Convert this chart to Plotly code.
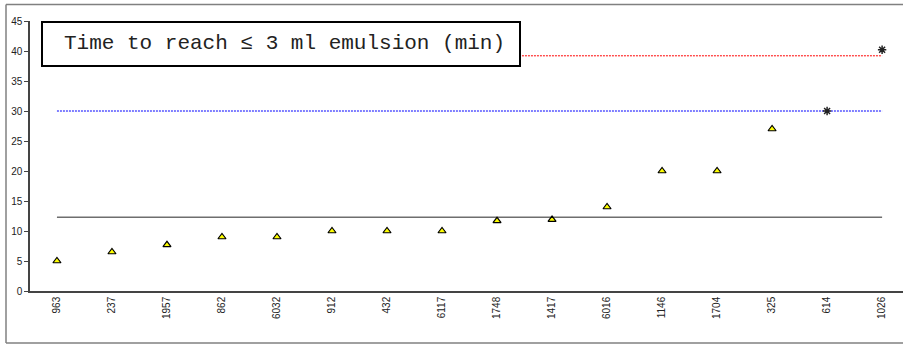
import plotly.graph_objects as go

# Sample ids on the category axis
samples = ['963', '237', '1957', '862', '6032', '912', '432', '6117',
           '1748', '1417', '6016', '1146', '1704', '325', '614', '1026']

# Times (min) to reach <= 3 ml emulsion
tri_samples = samples[:14]
tri_times = [5, 6.5, 7.7, 9, 9, 10, 10, 10, 11.7, 11.9, 14, 20, 20, 27]
star_samples = ['614', '1026']
star_times = [30, 40.2]

# Reference levels
mean_level = 12.3
blue_level = 30
red_level = 39.2

W, H = 903, 345
L, R, T, B = 30, 0, 21, 54
pw = W - L - R
ph = H - T - B


def px_x(p):
    return (p - L) / pw


def px_y(p):
    return (H - B - p) / ph


fig = go.Figure()

fig.add_trace(go.Scatter(x=samples, y=[red_level] * len(samples), mode='lines',
                         line=dict(color='#ff0000', width=1, dash='2px,1px'),
                         hoverinfo='skip'))
fig.add_trace(go.Scatter(x=samples, y=[blue_level] * len(samples), mode='lines',
                         line=dict(color='#0000ff', width=1, dash='2px,1px'),
                         hoverinfo='skip'))
fig.add_trace(go.Scatter(x=samples, y=[mean_level] * len(samples), mode='lines',
                         line=dict(color='#6e6e6e', width=1.5),
                         hoverinfo='skip'))

fig.add_trace(go.Scatter(x=tri_samples, y=tri_times, mode='markers',
                         marker=dict(symbol='triangle-up', size=7, color='#ffff00',
                                     line=dict(color='black', width=1.2))))
fig.add_trace(go.Scatter(x=star_samples, y=star_times, mode='markers',
                         marker=dict(symbol='asterisk-open', size=7, color='#222222',
                                     line=dict(color='#222222', width=1.5))))

# Outer frame (left, top, bottom; right side runs off the window)
frame = dict(color='#808080', width=1.5)
fig.add_shape(type='line', xref='paper', yref='paper',
              x0=px_x(6), x1=px_x(6), y0=px_y(343), y1=px_y(4.5), line=frame)
fig.add_shape(type='line', xref='paper', yref='paper',
              x0=px_x(6), x1=px_x(903), y0=px_y(4.5), y1=px_y(4.5), line=frame)
fig.add_shape(type='line', xref='paper', yref='paper',
              x0=px_x(6), x1=px_x(903), y0=px_y(343), y1=px_y(343), line=frame)

# Title box
fig.add_shape(type='rect', xref='paper', yref='paper',
              x0=px_x(42), x1=px_x(520), y0=px_y(66), y1=px_y(22),
              line=dict(color='black', width=2), fillcolor='white', layer='above')
fig.add_annotation(x=px_x(62), y=px_y(44), xref='paper', yref='paper',
                   xanchor='left', yanchor='middle', showarrow=False,
                   text='Time to reach \u2264 3 ml emulsion (min)',
                   font=dict(family='Liberation Mono, Courier New, monospace',
                             size=21, color='#222222'))

fig.update_xaxes(type='category', categoryorder='array', categoryarray=samples,
                 range=[-0.49, 15.38], showgrid=False, zeroline=False,
                 showline=True, linecolor='#444444', linewidth=1.5,
                 ticks='', tickangle=-90, automargin=False,
                 tickfont=dict(family='Liberation Sans, Arial', size=10, color='#222222'))
fig.update_yaxes(range=[0, 45], dtick=5, showgrid=False, zeroline=False,
                 showline=True, linecolor='#444444', linewidth=1.5,
                 ticks='outside', ticklen=4, tickcolor='#444444', automargin=False,
                 tickfont=dict(family='Liberation Sans, Arial', size=10, color='#222222'))

fig.update_layout(width=W, height=H, showlegend=False,
                  margin=dict(l=L, r=R, t=T, b=B),
                  plot_bgcolor='white', paper_bgcolor='white')

# drop the default page margin so the figure sits at the window corner
fig.write_html('out.html',
               config={'displayModeBar': False},
               post_script="document.body.style.margin='0px';"
                           "document.body.style.overflow='hidden';")
